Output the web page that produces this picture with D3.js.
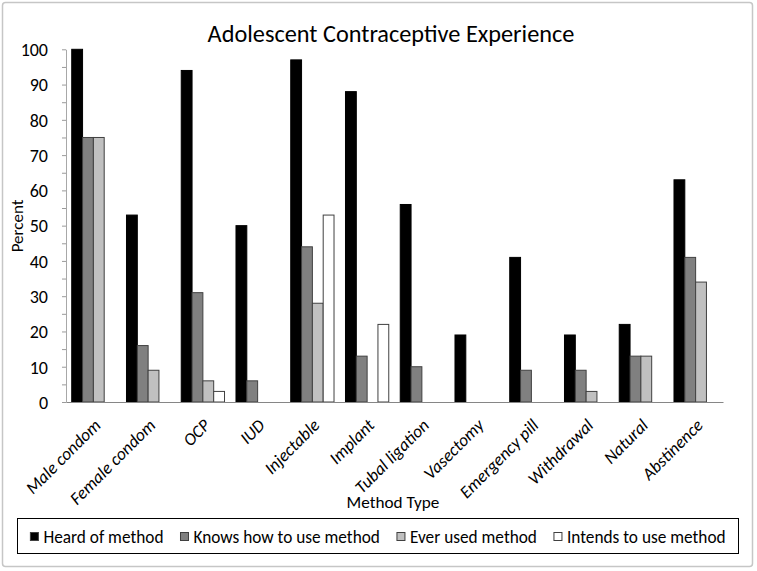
<!DOCTYPE html>
<html>
<head>
<meta charset="utf-8">
<script src="https://cdn.jsdelivr.net/npm/d3@7"></script>
<style>
  body { margin: 0; background: #fff; }
  svg text { font-family: Carlito, Calibri, Lato, sans-serif; fill: #000; }
</style>
</head>
<body>
<svg width="757" height="571"></svg>
<script>
// chart values
const categories = ["Male condom", "Female condom", "OCP", "IUD", "Injectable", "Implant",
  "Tubal ligation", "Vasectomy", "Emergency pill", "Withdrawal", "Natural", "Abstinence"]
const seriesNames = ["Heard of method", "Knows how to use method", "Ever used method", "Intends to use method"]
const heard    = [100, 53, 94, 50, 97, 88, 56, 19, 41, 19, 22, 63]
const knows    = [75, 16, 31, 6, 44, 13, 10, 0, 9, 9, 13, 41]
const everUsed = [75, 9, 6, 0, 28, 0, 0, 0, 0, 3, 13, 34]
const intends  = [0, 0, 3, 0, 53, 22, 0, 0, 0, 0, 0, 0]
const yTicks = [0, 10, 20, 30, 40, 50, 60, 70, 80, 90, 100]
const colors = ["#000000", "#808080", "#c0c0c0", "#ffffff"]

const series = [heard, knows, everUsed, intends]

let svg = d3.select("svg"),
    width = +svg.attr("width"),
    height = +svg.attr("height")

const plot = { left: 66, right: 723, top: 49.3, bottom: 402 }

// outer frame
svg.append("rect")
    .attr("x", 2.5).attr("y", 2.5)
    .attr("width", 750).attr("height", 564)
    .attr("rx", 3)
    .attr("fill", "#fff")
    .attr("stroke", "#c6c6c6")
    .attr("stroke-width", 1.5)

let x = d3.scaleBand()
    .domain(categories)
    .range([plot.left, plot.right])

let xInner = d3.scaleBand()
    .domain(d3.range(series.length))
    .range([0, x.bandwidth()])
    .paddingOuter(0.53)

let y = d3.scaleLinear()
    .domain([0, 100])
    .range([plot.bottom, plot.top])

// y axis, minor ticks every 5
let yAxis = svg.append("g")
    .attr("transform", "translate(" + plot.left + ",0)")
    .call(d3.axisLeft(y)
        .tickValues(d3.range(0, 101, 5))
        .tickSize(4)
        .tickSizeOuter(0)
        .tickPadding(14)
        .tickFormat(d => yTicks.includes(d) ? d : ""))
yAxis.select(".domain").attr("stroke", "#a8a8a8")
yAxis.selectAll(".tick line").attr("stroke", "#9a9a9a")
yAxis.selectAll(".tick text")
    .attr("font-size", 18)
    .attr("dy", "0.35em")

// bars
let group = svg.selectAll(".grp")
    .data(categories)
    .enter().append("g")
    .attr("class", "grp")
    .attr("transform", d => "translate(" + x(d) + ",0)")

group.selectAll("rect")
    .data((d, i) => series.map((s, k) => ({ k: k, v: s[i] })).filter(b => b.v > 0))
    .enter().append("rect")
    .attr("x", b => xInner(b.k))
    .attr("width", xInner.bandwidth())
    .attr("y", b => y(b.v))
    .attr("height", b => y(0) - y(b.v))
    .attr("fill", b => colors[b.k])
    .attr("stroke", b => b.k == 0 ? "#000" : "#404040")
    .attr("stroke-width", 1)

// x axis
let xAxis = svg.append("g")
    .attr("transform", "translate(0," + plot.bottom + ")")
    .call(d3.axisBottom(x).tickSize(0).tickSizeOuter(0))
xAxis.select(".domain").attr("stroke", "#868686")
xAxis.selectAll(".tick text")
    .attr("x", 0).attr("y", 0)
    .attr("dy", "0.35em")
    .attr("text-anchor", "end")
    .attr("font-size", 17.5)
    .attr("font-style", "italic")
    .attr("transform", "translate(4,20) rotate(-45)")

// titles
svg.append("text")
    .attr("x", 391).attr("y", 42)
    .attr("text-anchor", "middle")
    .attr("font-size", 24.3)
    .text("Adolescent Contraceptive Experience")

svg.append("text")
    .attr("transform", "translate(23,226) rotate(-90)")
    .attr("text-anchor", "middle")
    .attr("font-size", 17)
    .text("Percent")

svg.append("text")
    .attr("x", 393).attr("y", 508)
    .attr("text-anchor", "middle")
    .attr("font-size", 17.2)
    .text("Method Type")

// legend
let legend = svg.append("g")
legend.append("rect")
    .attr("x", 17.5).attr("y", 518.5)
    .attr("width", 721).attr("height", 35)
    .attr("fill", "#fff")
    .attr("stroke", "#000")

let items = legend.selectAll(".item")
    .data(seriesNames)
    .enter().append("g")
    .attr("class", "item")

items.append("rect")
    .attr("y", 532.5)
    .attr("width", 8).attr("height", 8)
    .attr("fill", (d, i) => colors[i])
    .attr("stroke", "#404040")

items.append("text")
    .attr("x", 13).attr("y", 542.5)
    .attr("font-size", 17.3)
    .text(d => d)

// lay the legend items out in a row, centred in the box
let widths = []
items.each(function() { widths.push(this.querySelector("text").getComputedTextLength() + 13) })
let gap = 17
let total = d3.sum(widths) + gap * (widths.length - 1)
let cursor = 17.5 + (721 - total) / 2
items.each(function(d, i) {
    d3.select(this).attr("transform", "translate(" + cursor + ",0)")
    cursor += widths[i] + gap
})
</script>
</body>
</html>
